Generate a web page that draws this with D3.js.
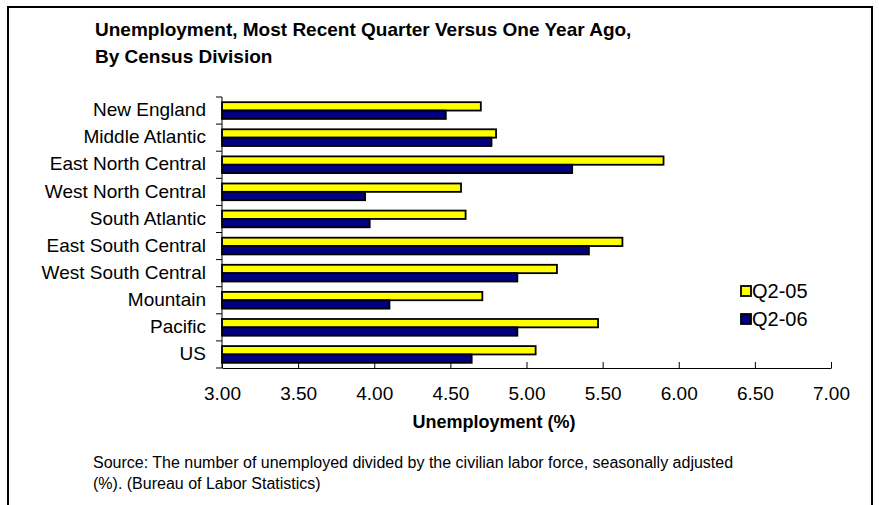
<!DOCTYPE html>
<html>
<head>
<meta charset="utf-8">
<script src="https://cdn.jsdelivr.net/npm/d3@7"></script>
<style>
  html, body { margin: 0; padding: 0; background: #fff; }
  svg { display: block; font-family: "Liberation Sans", Arial, Helvetica, sans-serif; }
</style>
</head>
<body>
<svg id="chart" width="879" height="505"></svg>
<script>
const categories = ["New England", "Middle Atlantic", "East North Central", "West North Central",
  "South Atlantic", "East South Central", "West South Central", "Mountain", "Pacific", "US"];
const seriesNames = ["Q2-05", "Q2-06"];
const q205 = [4.70, 4.80, 5.90, 4.57, 4.60, 5.63, 5.20, 4.71, 5.47, 5.06];
const q206 = [4.47, 4.77, 5.30, 3.94, 3.97, 5.41, 4.94, 4.10, 4.94, 4.64];
const xTicks = [3.0, 3.5, 4.0, 4.5, 5.0, 5.5, 6.0, 6.5, 7.0];
const colors = ["#FFFF00", "#000080"];
const titleLines = ["Unemployment, Most Recent Quarter Versus One Year Ago,", "By Census Division"];
const xTitle = "Unemployment (%)";
const sourceLines = ["Source:  The number of unemployed divided by the civilian labor force, seasonally adjusted",
  "(%). (Bureau of Labor Statistics)"];

const svg = d3.select("#chart");

// frame
svg.append("rect").attr("x", 8).attr("y", 7).attr("width", 864).attr("height", 530)
  .attr("fill", "none").attr("stroke", "#000").attr("stroke-width", 2);

// title
svg.append("g").selectAll("text").data(titleLines).join("text")
  .attr("x", 95).attr("y", (d, i) => 36 + i * 27)
  .attr("font-size", 19).attr("font-weight", "bold").attr("fill", "#000")
  .text(d => d);

const x = d3.scaleLinear().domain([3, 7]).range([222, 831]);
const y0 = d3.scaleBand().domain(categories).range([97, 368]);
const y1 = d3.scaleBand().domain(seriesNames).range([0, y0.bandwidth()]).paddingOuter(0.62);

const data = categories.map((c, i) => ({ cat: c, vals: [q205[i], q206[i]] }));

const groups = svg.append("g").selectAll("g").data(data).join("g")
  .attr("transform", d => `translate(0,${y0(d.cat)})`);
groups.selectAll("rect").data(d => d.vals.map((v, j) => ({ v, s: seriesNames[j], j })))
  .join("rect")
  .attr("x", x(3))
  .attr("y", d => y1(d.s))
  .attr("width", d => x(d.v) - x(3))
  .attr("height", y1.bandwidth())
  .attr("fill", d => colors[d.j])
  .attr("stroke", "#000").attr("stroke-width", 1.8);

// y axis: line with ticks at band boundaries
const yAxisG = svg.append("g");
yAxisG.append("line").attr("x1", x(3)).attr("x2", x(3)).attr("y1", y0.range()[0]).attr("y2", y0.range()[1])
  .attr("stroke", "#000").attr("stroke-width", 1);
const bounds = categories.map(c => y0(c)).concat([y0.range()[1]]);
yAxisG.selectAll("line.tk").data(bounds).join("line").attr("class", "tk")
  .attr("x1", x(3) - 6).attr("x2", x(3)).attr("y1", d => d).attr("y2", d => d)
  .attr("stroke", "#000").attr("stroke-width", 1);
yAxisG.selectAll("text").data(categories).join("text")
  .attr("x", 206).attr("y", c => y0(c) + y0.bandwidth() / 2 - 1)
  .attr("dy", "0.35em").attr("text-anchor", "end").attr("font-size", 19).attr("fill", "#000")
  .text(c => c);

// x axis (ticks point up into the plot)
const xAxis = d3.axisBottom(x).tickValues(xTicks).tickFormat(d3.format(".2f"))
  .tickSizeInner(-6).tickSizeOuter(0).tickPadding(19);
const xg = svg.append("g").attr("transform", `translate(0,${y0.range()[1]})`).call(xAxis);
xg.select(".domain").attr("stroke", "#000");
xg.selectAll(".tick line").attr("stroke", "#000");
xg.selectAll(".tick text").attr("font-size", 19).attr("fill", "#000")
  .attr("font-family", "Liberation Sans, Arial, sans-serif");

svg.append("text").attr("x", 494).attr("y", 428).attr("text-anchor", "middle")
  .attr("font-size", 18).attr("font-weight", "bold").text(xTitle);

// legend
const lg = svg.append("g").selectAll("g").data(seriesNames).join("g")
  .attr("transform", (d, i) => `translate(741,${286 + i * 28})`);
lg.append("rect").attr("width", 10).attr("height", 10)
  .attr("fill", (d, i) => colors[i]).attr("stroke", "#000").attr("stroke-width", 1.8);
lg.append("text").attr("x", 11).attr("y", 5).attr("dy", "0.36em").attr("font-size", 20).text(d => d);

// source
svg.append("g").selectAll("text").data(sourceLines).join("text")
  .attr("x", 93).attr("y", (d, i) => 468 + i * 21)
  .attr("font-size", 16).attr("fill", "#000").text(d => d);
</script>
</body>
</html>
